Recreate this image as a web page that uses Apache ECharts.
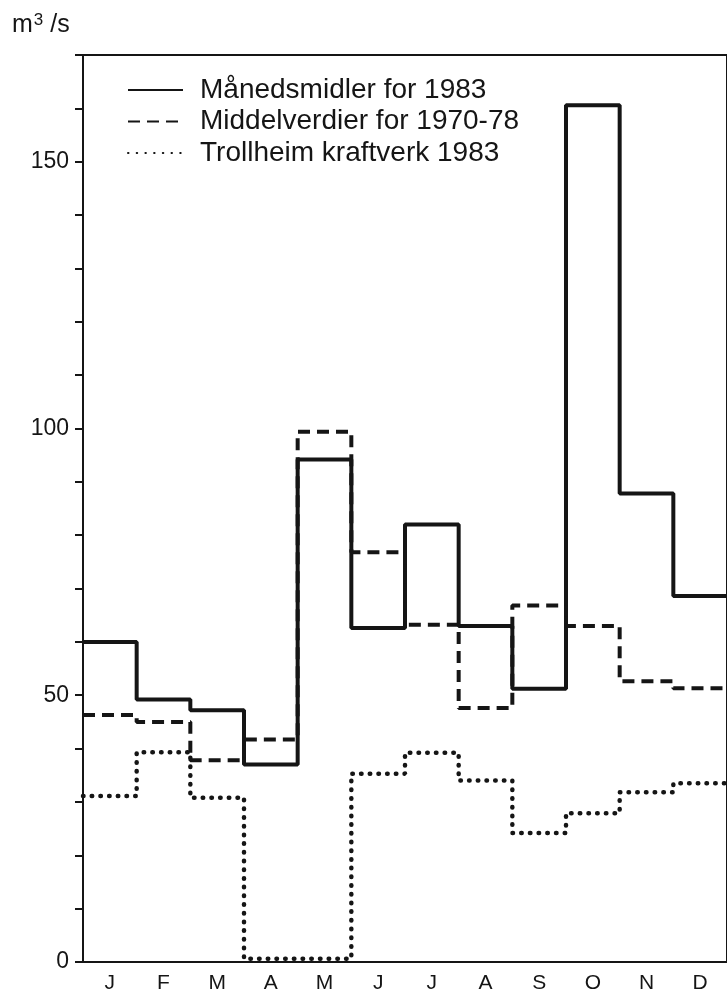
<!DOCTYPE html>
<html>
<head>
<meta charset="utf-8">
<style>
  html, body { margin: 0; padding: 0; background: #fff; }
  #chart { width: 727px; height: 997px; }
</style>
<script src="https://cdn.jsdelivr.net/npm/echarts@6/dist/echarts.min.js"></script>
</head>
<body>
<div id="chart"></div>
<script>
// months J..D
var months = ['J', 'F', 'M', 'A', 'M', 'J', 'J', 'A', 'S', 'O', 'N', 'D'];
// Månedsmidler for 1983 (m3/s)
var monthly1983 = [60, 49.2, 47.2, 37, 94.2, 62.6, 82, 63, 51.2, 160.6, 87.8, 68.6];
// Middelverdier for 1970-78
var mean7078 = [46.3, 45, 37.8, 41.7, 99.4, 76.8, 63.2, 47.6, 66.8, 63, 52.6, 51.3];
// Trollheim kraftverk 1983
var trollheim = [31.1, 39.3, 30.8, 0.6, 0.6, 35.3, 39.2, 34, 24.2, 27.9, 31.8, 33.5];
var yLabels = [0, 50, 100, 150];

var ink = '#151515';
var font = 'Liberation Sans';

// step line: value i is held from month boundary i to i+1
function steps(vals) {
    var pts = vals.map(function (v, i) { return [i, v]; });
    pts.push([vals.length, vals[vals.length - 1]]);
    return pts;
}

var myChart = echarts.init(document.getElementById('chart'));
myChart.setOption({
    animation: false,
    graphic: [{
        type: 'text',
        left: 12,
        top: 12,
        style: {
            text: 'm{sup|3} /s',
            font: '25px "' + font + '"',
            fill: ink,
            rich: {
                sup: { fontSize: 17, fontFamily: font, verticalAlign: 'top', padding: [0, 0, 10, 1] }
            }
        }
    }],
    legend: {
        orient: 'vertical',
        left: 127,
        top: 76,
        padding: 0,
        itemWidth: 55,
        itemHeight: 28,
        itemGap: 3.5,
        itemStyle: { opacity: 0 },
        textStyle: { fontFamily: font, fontSize: 28, lineHeight: 28, color: ink, padding: [0, 0, 0, 12] },
        data: ['Månedsmidler for 1983', 'Middelverdier for 1970-78', 'Trollheim kraftverk 1983']
    },
    grid: {
        left: 83,
        right: -10,
        top: 55,
        bottom: 35,
        show: true,
        borderColor: ink,
        borderWidth: 2
    },
    xAxis: [{
        type: 'category',
        data: months,
        boundaryGap: true,
        axisLine: { lineStyle: { color: ink, width: 2 } },
        axisTick: { interval: 0, length: 14, lineStyle: { color: ink, width: 2 } },
        axisLabel: { interval: 0, margin: 11, fontFamily: font, fontSize: 21, color: ink },
        splitLine: { show: false }
    }, {
        type: 'value',
        min: 0,
        max: 12,
        show: false
    }],
    yAxis: {
        type: 'value',
        min: 0,
        max: 170,
        interval: 10,
        axisLine: { show: true, lineStyle: { color: ink, width: 2 } },
        axisTick: { show: true, length: 8, lineStyle: { color: ink, width: 2 } },
        axisLabel: {
            margin: 14,
            fontFamily: font,
            fontSize: 23,
            color: ink,
            formatter: function (v) { return yLabels.indexOf(v) >= 0 ? String(v) : ''; }
        },
        splitLine: { show: false }
    },
    series: [{
        name: 'Månedsmidler for 1983',
        type: 'line',
        xAxisIndex: 1,
        step: 'end',
        symbol: 'none',
        data: steps(monthly1983),
        lineStyle: { color: ink, width: 4 }
    }, {
        name: 'Middelverdier for 1970-78',
        type: 'line',
        xAxisIndex: 1,
        step: 'end',
        symbol: 'none',
        data: steps(mean7078),
        lineStyle: { color: ink, width: 4, type: [12, 7] }
    }, {
        name: 'Trollheim kraftverk 1983',
        type: 'line',
        xAxisIndex: 1,
        step: 'end',
        symbol: 'none',
        data: steps(trollheim),
        lineStyle: { color: ink, width: 4.5, type: [0.5, 8.2], cap: 'round' }
    }]
});
</script>
</body>
</html>
